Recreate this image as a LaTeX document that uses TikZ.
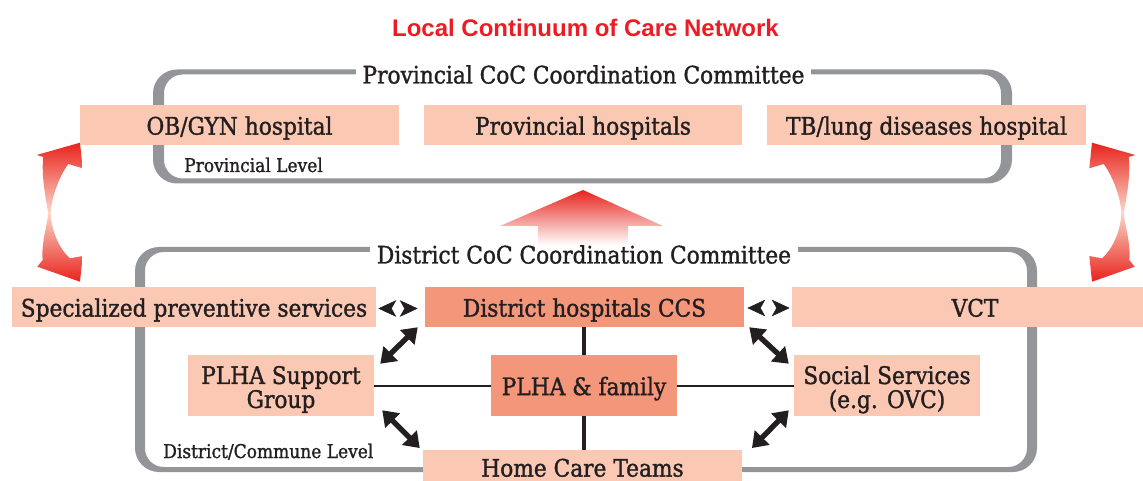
\documentclass[tikz,border=0pt]{standalone}
\usepackage{fontspec}
\setmainfont[FakeStretch=0.9,FakeBold=1.3]{DejaVu Serif}
\newfontfamily\ttlfont{Liberation Sans}
\usetikzlibrary{arrows.meta,shadings}
\definecolor{boxlight}{HTML}{FBC8B3}
\definecolor{boxdark}{HTML}{F4967A}
\definecolor{framegray}{HTML}{939598}
\definecolor{ink}{HTML}{231F20}
\definecolor{titlered}{HTML}{ED1C24}
\definecolor{arrred}{HTML}{E8231C}
\definecolor{arrpale}{HTML}{FCD6C8}
\newcommand{\bxfont}{\fontsize{18.1}{18}\selectfont}
\newcommand{\smfont}{\fontsize{14.2}{15}\selectfont}
\begin{document}
\begin{tikzpicture}[x=0.75pt,y=-0.75pt,
  basebox/.style={rectangle, inner sep=0pt, text=ink},
  lightbox/.style={basebox, fill=boxlight},
  darkbox/.style={basebox, fill=boxdark},
  onel/.style={font=\bxfont, text height=14.4pt, text depth=0pt},
  twol/.style={font=\bxfont, align=center, text=ink, inner sep=0pt},
  wh/.style 2 args={minimum width=#1*0.75pt, minimum height=#2*0.75pt},
  ftitle/.style={fill=white, text=ink, font=\bxfont, inner xsep=5pt, inner ysep=2pt, anchor=base},
  smlabel/.style={text=ink, font=\smfont, inner sep=0pt, anchor=base west},
  curvarrow/.style={top color=arrred, bottom color=arrred, middle color=arrpale},
  dbl/.style={{Triangle[length=11pt,width=15pt]}-{Triangle[length=11pt,width=15pt]}, line width=4pt, draw=ink},
  pair/.style={draw=white, line width=0.5pt, {Stealth[length=13.5pt,width=12.5pt,inset=3.5pt,color=ink]}-{Stealth[length=13.5pt,width=12.5pt,inset=3.5pt,color=ink]}},
  vline/.style={draw=ink, line width=3pt},
  hline/.style={draw=ink, line width=1.5pt}
]
\useasboundingbox (0,0) rectangle (1143,481);
\clip (0,0) rectangle (1143,481);

% title
\node[font=\ttlfont\fontsize{18}{20}\bfseries\selectfont, text=titlered, anchor=base, inner sep=0pt] (title) at (585.5,36.7) {Local Continuum of Care Network};

% frames
\fill[framegray, even odd rule] [rounded corners=18pt] (153,69.5) rectangle (1012,183.5) [rounded corners=14pt] (164,74.5) rectangle (1001,178.5);
\fill[framegray, even odd rule] [rounded corners=18pt] (135,247) rectangle (1037,472) [rounded corners=14pt] (145,252) rectangle (1027,467);
\node[ftitle] (ptitle) at (583.5,83.5) {Provincial CoC Coordination Committee};
\node[ftitle] (dtitle) at (584,263.5) {District CoC Coordination Committee};

% up arrow
\path[top color=arrred, bottom color=white] (583,190) -- (663,226) -- (628,226) -- (628,245) -- (538,245) -- (538,226) -- (500,226) -- cycle;

% curved double arrows
\path[curvarrow] (80,142.7) -- (82.7,168.3) -- (68.3,164) .. controls (58,178) and (51,200) .. (50.7,213.3) .. controls (51,228) and (58,248) .. (70,258.3) -- (82.7,256) -- (80,281.7) -- (37.3,266.7) -- (42.7,260) .. controls (41,245) and (47,225) .. (48.3,213.3) .. controls (46,200) and (41,175) .. (43.3,157) -- (36.7,155) -- cycle;
\begin{scope}[shift={(1172,0)}, xscale=-1]
\path[curvarrow] (80,142.7) -- (82.7,168.3) -- (68.3,164) .. controls (58,178) and (51,200) .. (50.7,213.3) .. controls (51,228) and (58,248) .. (70,258.3) -- (82.7,256) -- (80,281.7) -- (37.3,266.7) -- (42.7,260) .. controls (41,245) and (47,225) .. (48.3,213.3) .. controls (46,200) and (41,175) .. (43.3,157) -- (36.7,155) -- cycle;
\end{scope}

% provincial boxes
\node[lightbox, onel, wh={319}{40}] (ob) at (239.5,125) {OB/GYN hospital};
\node[lightbox, onel, wh={318}{40}] (ph) at (583,125) {Provincial hospitals};
\node[lightbox, onel, wh={319}{40}] (tb) at (926.5,125) {TB/lung diseases hospital};
\node[smlabel] (plev) at (184,172) {Provincial Level};

% district boxes
\node[lightbox, onel, wh={364}{40}] (sp) at (194,307) {Specialized preventive services};
\node[darkbox, onel, wh={319}{40}] (dh) at (584.5,307) {District hospitals CCS};
\node[lightbox, onel, wh={366}{40}] (vct) at (975,307) {VCT};
\node[lightbox, wh={186}{61}, label={[twol, yshift=-3pt]center:{PLHA Support\\Group}}] (psg) at (281,385.5) {};
\node[darkbox, onel, wh={186}{61}] (pf) at (584,385.5) {PLHA \& family};
\node[lightbox, wh={186}{61}, label={[twol, yshift=-3pt]center:{Social Services\\(e.g. OVC)}}] (ss) at (887,385.5) {};
\node[lightbox, onel, wh={319}{34}] (hct) at (582.5,467) {Home Care Teams};
\node[smlabel] (dlev) at (163,458) {District/Commune Level};

% connectors
\draw[vline] (pf.north |- dh.south) -- (pf.north);
\draw[vline] (pf.south) -- (pf.south |- hct.north);
\draw[hline] (psg.east) -- (pf.west);
\draw[hline] (pf.east) -- (ss.west);
\draw[dbl] ([shift={(-7,0)}]dh.south west) -- ([shift={(6,9)}]psg.north east);
\draw[dbl] ([shift={(8,-6)}]psg.south east) -- ([shift={(-3,-1.7)}]hct.north west);
\draw[dbl] ([shift={(5,0)}]dh.south east) -- ([shift={(-5,9)}]ss.north west);
\draw[dbl] ([shift={(-5,-6)}]ss.south west) -- ([shift={(9.7,-1.7)}]hct.north east);
\draw[pair] ([shift={(2,1.5)}]sp.east) -- ([shift={(-7,1.5)}]dh.west);
\draw[pair] ([shift={(3,1)}]dh.east) -- ([shift={(-2,1)}]vct.west);
\end{tikzpicture}
\end{document}
